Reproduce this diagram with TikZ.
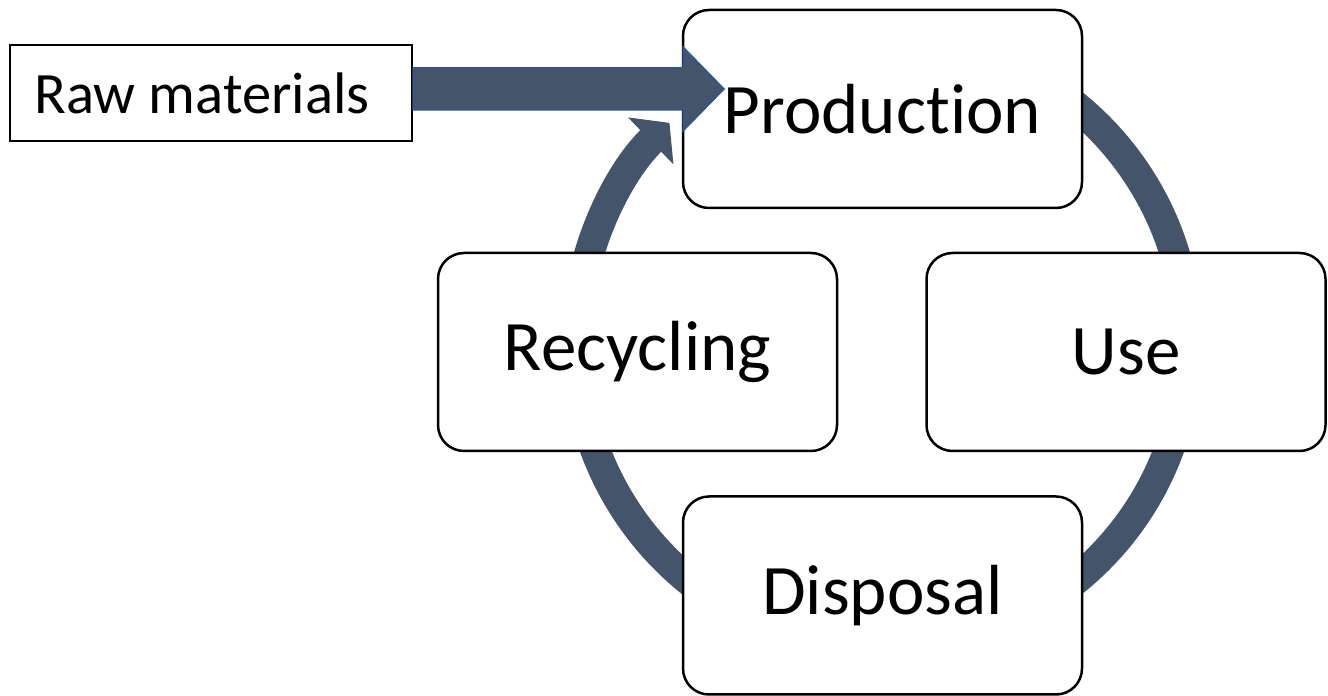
\documentclass[tikz,border=0pt]{standalone}
\usepackage{fontspec}
\setmainfont{Carlito}[Ligatures=NoCommon]
\usetikzlibrary{arrows.meta,calc}
\definecolor{ringc}{HTML}{44546A}
\definecolor{edgec}{HTML}{2F5597}
\begin{document}
\begin{tikzpicture}[x=0.5pt,y=0.5pt,
  stagebox/.style={draw=black, line width=1.25pt, rounded corners=13pt, fill=white,
    minimum width=199.5pt, minimum height=99pt, inner sep=0pt,
    font=\fontsize{35.5}{40}\selectfont},
  rawbox/.style={draw=black, line width=1pt, fill=white, minimum width=201pt,
    minimum height=48pt, inner sep=0pt, font=\fontsize{29.3}{34}\selectfont},
  ring/.style={draw=ringc, line width=15pt, -{Triangle[length=13pt,width=32pt]}},
  blockarrow/.style={fill=ringc, draw=edgec, line width=0.75pt, line join=miter}]
\useasboundingbox (0,0) rectangle (1328,696);
\coordinate (c) at (882,353);
\draw[ring] (c) ++(80:306) arc[start angle=80, end angle=-226, radius=306];
\node[rawbox] (raw) at (211,603) {\raisebox{-1.5pt}{Raw materials}\rule{9pt}{0pt}};
\node[stagebox] (prod) at (882.5,587) {Production};
\node[stagebox] (use) at (1126,344) {Use};
\node[stagebox] (rec) at (637.5,344) {Recycling};
\node[stagebox] (disp) at (882.5,100.5) {Disposal};
\path[blockarrow] ($(raw.east)+(0,25)$) -- ++(270,0) -- ++(0,21) -- ++(41,-42)
  -- ++(-41,-42) -- ++(0,21) -- ++(-270,0) -- cycle;
\end{tikzpicture}
\end{document}
